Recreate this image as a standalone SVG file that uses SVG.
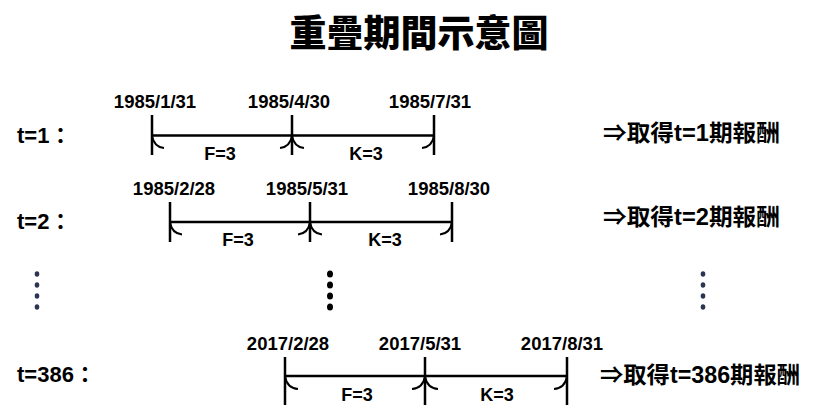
<svg xmlns="http://www.w3.org/2000/svg" width="820" height="414" viewBox="0 0 820 414">
<style>
text{font-family:"Liberation Sans","Noto Sans CJK TC",sans-serif;font-weight:bold;fill:#000}
.title{font-size:37px;font-family:"Noto Sans CJK TC",sans-serif;font-weight:900}
.date{font-size:18.5px;text-anchor:middle}
.lab{font-size:18px;text-anchor:middle}
.t{font-size:22px}
.res{font-size:23px}
.ln{stroke:#000;stroke-width:2.5;fill:none}
.arc{stroke:#000;stroke-width:2;fill:none}
.dot{fill:#2b3550}
.bdot{fill:#000}
</style>
<rect width="820" height="414" fill="#fff"/>
<text class="title" x="419" y="47" text-anchor="middle">重疊期間示意圖</text>

<g id="row1">
<text class="t" x="17" y="143">t=1：</text>
<text class="date" x="155" y="108">1985/1/31</text>
<text class="date" x="289" y="108">1985/4/30</text>
<text class="date" x="430" y="108">1985/7/31</text>
<path class="ln" d="M152,115V155M292,115V155M434,115V155M152,135.5H434"/>
<path class="arc" d="M152,136Q154,147 164,148M292,136Q290,147 280,148M292,136Q294,147 304,148M434,136Q432,147 422,148"/>
<text class="lab" x="220" y="160">F=3</text>
<text class="lab" x="366" y="160">K=3</text>
<text class="res" x="603" y="141" textLength="177" lengthAdjust="spacingAndGlyphs">⇒取得t=1期報酬</text>
</g>

<g id="row2">
<text class="t" x="17" y="229">t=2：</text>
<text class="date" x="174" y="195">1985/2/28</text>
<text class="date" x="307" y="195">1985/5/31</text>
<text class="date" x="449" y="195">1985/8/30</text>
<path class="ln" d="M170,202V242M310,202V242M452,202V242M170,222H452"/>
<path class="arc" d="M170,222.5Q172,233.5 182,234.5M310,222.5Q308,233.5 298,234.5M310,222.5Q312,233.5 322,234.5M452,222.5Q450,233.5 440,234.5"/>
<text class="lab" x="238" y="246">F=3</text>
<text class="lab" x="385" y="246">K=3</text>
<text class="res" x="603" y="225" textLength="177" lengthAdjust="spacingAndGlyphs">⇒取得t=2期報酬</text>
</g>

<g id="dots">
<ellipse class="dot" cx="37" cy="274" rx="2.3" ry="2.8"/>
<ellipse class="dot" cx="37" cy="285" rx="2.3" ry="2.8"/>
<ellipse class="dot" cx="37" cy="296" rx="2.3" ry="2.8"/>
<ellipse class="dot" cx="37" cy="307" rx="2.3" ry="2.8"/>
<ellipse class="bdot" cx="330" cy="274" rx="3" ry="3.5"/>
<ellipse class="bdot" cx="330" cy="285" rx="3" ry="3.5"/>
<ellipse class="bdot" cx="330" cy="296" rx="3" ry="3.5"/>
<ellipse class="bdot" cx="330" cy="307" rx="3" ry="3.5"/>
<ellipse class="dot" cx="703" cy="274" rx="2.3" ry="2.8"/>
<ellipse class="dot" cx="703" cy="285" rx="2.3" ry="2.8"/>
<ellipse class="dot" cx="703" cy="296" rx="2.3" ry="2.8"/>
<ellipse class="dot" cx="703" cy="307" rx="2.3" ry="2.8"/>
</g>

<g id="row3">
<text class="t" x="17" y="382">t=386：</text>
<text class="date" x="288" y="350">2017/2/28</text>
<text class="date" x="420" y="350">2017/5/31</text>
<text class="date" x="562" y="350">2017/8/31</text>
<path class="ln" d="M285,357V405M425,357V405M567,357V405M285,376H567"/>
<path class="arc" d="M285,376.5Q287,388 298,389M425,376.5Q423,388 412,389M425,376.5Q427,388 438,389M567,376.5Q565,388 554,389"/>
<text class="lab" x="357" y="401">F=3</text>
<text class="lab" x="497" y="401">K=3</text>
<text class="res" x="600" y="383" textLength="200" lengthAdjust="spacingAndGlyphs">⇒取得t=386期報酬</text>
</g>
</svg>
